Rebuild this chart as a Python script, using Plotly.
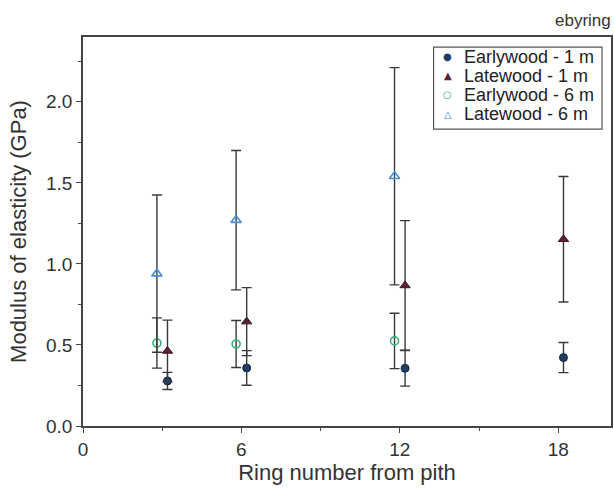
import plotly.graph_objects as go

# Data
rings_1m = [3, 6, 12, 18]
rings_6m = [3, 6, 12]
ew_1m = [0.278, 0.358, 0.356, 0.422]
ew_1m_err = [0.053, 0.107, 0.110, 0.093]
lw_1m = [0.463, 0.644, 0.867, 1.152]
lw_1m_err = [0.190, 0.210, 0.400, 0.387]
ew_6m = [0.512, 0.506, 0.525]
ew_6m_err = [0.155, 0.145, 0.171]
lw_6m = [0.940, 1.270, 1.541]
lw_6m_err = [0.485, 0.430, 0.670]

series_names = ["Earlywood - 1 m", "Latewood - 1 m", "Earlywood - 6 m", "Latewood - 6 m"]
series_colors = ["#1d3f66", "#5b2232", "#35b07a", "#4a8fd4"]
legend_glyphs = ["●", "▲", "○", "△"]

offset = 0.2
x_1m = [r + offset for r in rings_1m]
x_6m = [r - offset for r in rings_6m]

err_style = dict(type="data", color="#3a3a3a", thickness=1.4, width=5)

fig = go.Figure()
fig.add_trace(go.Scatter(
    x=x_1m, y=ew_1m, mode="markers", name=series_names[0],
    error_y=dict(array=ew_1m_err, **err_style),
    marker=dict(symbol="circle", size=8, color=series_colors[0],
                line=dict(color="#14273f", width=1))))
fig.add_trace(go.Scatter(
    x=x_1m, y=lw_1m, mode="markers", name=series_names[1],
    error_y=dict(array=lw_1m_err, **err_style),
    marker=dict(symbol="triangle-up", size=9, color=series_colors[1],
                line=dict(color="#3d1520", width=1))))
fig.add_trace(go.Scatter(
    x=x_6m, y=ew_6m, mode="markers", name=series_names[2],
    error_y=dict(array=ew_6m_err, **err_style),
    marker=dict(symbol="circle-open", size=8, color=series_colors[2],
                line=dict(width=1.6))))
fig.add_trace(go.Scatter(
    x=x_6m, y=lw_6m, mode="markers", name=series_names[3],
    error_y=dict(array=lw_6m_err, **err_style),
    marker=dict(symbol="triangle-up-open", size=9, color=series_colors[3],
                line=dict(width=1.6))))

axis_common = dict(
    showline=True, linecolor="#444", linewidth=1.5, mirror=True,
    ticks="outside", tickcolor="#444", ticklen=5, tickwidth=1.2,
    showgrid=False, zeroline=False,
    tickfont=dict(size=19, color="#333"),
)

fig.update_xaxes(
    range=[0, 20], tickvals=[0, 6, 12, 18],
    minor=dict(tickvals=[3, 9, 15], ticks="outside", ticklen=3, tickcolor="#444"),
    title=dict(text="Ring number from pith", font=dict(size=22, color="#333"), standoff=4),
    **axis_common)
fig.update_yaxes(
    range=[0, 2.4], tickvals=[0, 0.5, 1.0, 1.5, 2.0], tickformat=".1f",
    minor=dict(tickvals=[0.25, 0.75, 1.25, 1.75, 2.25], ticks="outside", ticklen=3, tickcolor="#444"),
    title=dict(text="Modulus of elasticity (GPa)", font=dict(size=22, color="#333"), standoff=13),
    **axis_common)

fig.add_annotation(text="ebyring", xref="paper", yref="paper", x=1.0, y=1.0,
                   xanchor="right", yanchor="middle", xshift=2, yshift=17, showarrow=False,
                   font=dict(size=17, color="#333"))

# Compact legend box (drawn as shape + text annotations)
fig.add_shape(type="rect", xref="paper", yref="paper",
              x0=0.664, x1=0.983, y0=0.763, y1=0.974,
              line=dict(color="#555", width=1.2), fillcolor="white", layer="above")
row_y = [0.949, 0.900, 0.851, 0.801]
for name, col, glyph, yy in zip(series_names, series_colors, legend_glyphs, row_y):
    fig.add_annotation(text=glyph, xref="paper", yref="paper", x=0.691, y=yy,
                       xanchor="center", yanchor="middle", showarrow=False,
                       font=dict(size=10, color=col, family="DejaVu Sans"))
    fig.add_annotation(text=name, xref="paper", yref="paper", x=0.7175, y=yy,
                       xanchor="left", yanchor="middle", showarrow=False,
                       font=dict(size=18, color="#222"))

fig.update_layout(
    width=614, height=495,
    margin=dict(l=83, r=1, t=37, b=69),
    paper_bgcolor="white", plot_bgcolor="white",
    font=dict(family="Liberation Sans, Arial, sans-serif", color="#333"),
    showlegend=False,
)

fig.write_html("out.html", config={"displayModeBar": False},
               post_script="document.body.style.margin='0';")
